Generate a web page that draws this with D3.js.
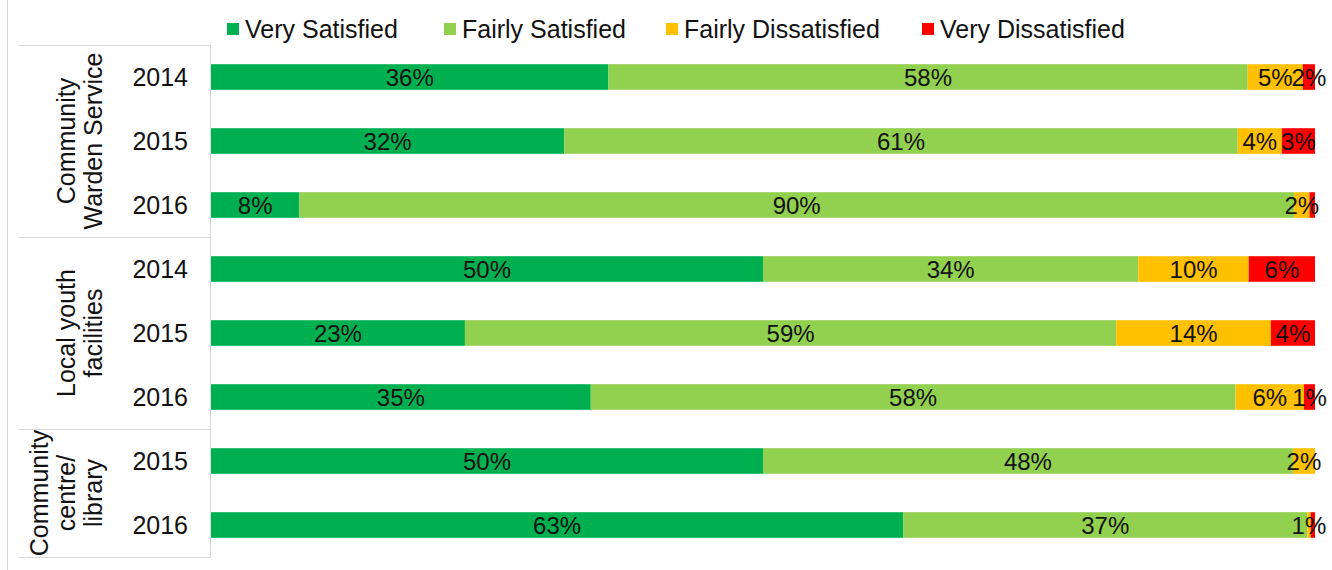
<!DOCTYPE html>
<html>
<head>
<meta charset="utf-8">
<script src="https://cdn.jsdelivr.net/npm/d3@7"></script>
<style>
  body { margin: 0; background: #fff; }
  svg text { font-family: "Liberation Sans", Arial, sans-serif; fill: #111; }
</style>
</head>
<body>
<svg id="chart" width="1332" height="570"></svg>
<script>
// data
var groups = ["Community Warden Service", "Local youth facilities", "Community centre/ library"];
var groupLines = [["Community", "Warden Service"], ["Local youth", "facilities"], ["Community", "centre/", "library"]];
var rowGroup = [0, 0, 0, 1, 1, 1, 2, 2];
var years = ["2014", "2015", "2016", "2014", "2015", "2016", "2015", "2016"];
var series = ["Very Satisfied", "Fairly Satisfied", "Fairly Dissatisfied", "Very Dissatisfied"];
var colors = ["#00B050", "#92D050", "#FFC000", "#FF0000"];

var verySat      = [36,   32, 8,    50, 23, 34.4, 50, 62.7];
var fairlySat    = [57.9, 61, 90.1, 34, 59, 58.4, 48, 36.6];
var fairlyDissat = [5,    4,  1.4,  10, 14, 6.2,  2,  0.3];
var veryDissat   = [1.1,  3,  0.5,  6,  4,  1,    0,  0.4];

var labelsVS = ["36%", "32%", "8%", "50%", "23%", "35%", "50%", "63%"];
var labelsFS = ["58%", "61%", "90%", "34%", "59%", "58%", "48%", "37%"];
var labelsFD = ["5%", "4%", "2%", "10%", "14%", "6%", "2%", "1%"];
var labelsVD = ["2%", "3%", "", "6%", "4%", "1%", "", ""];

var seriesValues = [verySat, fairlySat, fairlyDissat, veryDissat];
var seriesLabels = [labelsVS, labelsFS, labelsFD, labelsVD];

var svg = d3.select("#chart");
var rows = d3.range(years.length);

var x = d3.scaleLinear().domain([0, 100]).range([211, 1315]);
var y = d3.scaleBand().domain(rows).range([45, 557]).paddingInner(0.6).paddingOuter(0.3);

// stacked segments, normalised to 100
var table = rows.map(function(i) {
  var o = {row: i};
  series.forEach(function(s, k) { o[s] = seriesValues[k][i]; });
  return o;
});
var stack = d3.stack().keys(series).offset(d3.stackOffsetExpand);
var stacked = stack(table);

// left axis frame
var grey = "#d9d9d9";
svg.append("line").attr("x1", 7.5).attr("x2", 7.5).attr("y1", 0).attr("y2", 570).attr("stroke", grey);
svg.append("line").attr("x1", 210.5).attr("x2", 210.5).attr("y1", 45).attr("y2", 558).attr("stroke", grey);
var bounds = [0, 3, 6, 8];
bounds.forEach(function(b) {
  var yy;
  if (b === 0) yy = y(0) - y.step() * y.paddingOuter();
  else if (b === rows.length) yy = y(rows.length - 1) + y.bandwidth() + y.step() * y.paddingOuter();
  else yy = y(b) - y.step() * y.paddingInner() / 2;
  svg.append("line").attr("x1", 19).attr("x2", 211).attr("y1", Math.round(yy) + 0.5).attr("y2", Math.round(yy) + 0.5).attr("stroke", grey);
});

// bars
var layer = svg.append("g").selectAll("g").data(stacked).enter().append("g")
  .attr("fill", function(d, k) { return colors[k]; });
layer.selectAll("rect").data(function(d) { return d; }).enter().append("rect")
  .attr("x", function(d) { return x(d[0] * 100); })
  .attr("width", function(d) { return Math.max(0, x(d[1] * 100) - x(d[0] * 100)); })
  .attr("y", function(d, i) { return y(i); })
  .attr("height", y.bandwidth());

// segment labels
stacked.forEach(function(s, k) {
  svg.append("g").selectAll("text").data(s).enter().append("text")
    .attr("x", function(d) { return (x(d[0] * 100) + x(d[1] * 100)) / 2; })
    .attr("y", function(d, i) { return y(i) + y.bandwidth() / 2; })
    .attr("dy", "0.36em")
    .attr("text-anchor", "middle")
    .attr("font-size", 24)
    .text(function(d, i) { return seriesLabels[k][i]; });
});

// year labels
svg.append("g").selectAll("text").data(rows).enter().append("text")
  .attr("x", 188)
  .attr("y", function(i) { return y(i) + y.bandwidth() / 2; })
  .attr("dy", "0.36em")
  .attr("text-anchor", "end")
  .attr("font-size", 25)
  .text(function(i) { return years[i]; });

// group labels, rotated
groups.forEach(function(g, gi) {
  var idx = rows.filter(function(i) { return rowGroup[i] === gi; });
  var cy = (y(idx[0]) + y(idx[idx.length - 1]) + y.bandwidth()) / 2;
  var lines = groupLines[gi];
  var lastX = 93;
  var t = svg.append("text")
    .attr("transform", "translate(" + lastX + "," + cy + ") rotate(-90)")
    .attr("text-anchor", "middle")
    .attr("font-size", 25);
  lines.forEach(function(line, li) {
    t.append("tspan")
      .attr("x", 0)
      .attr("y", -(lines.length - 1 - li) * 27)
      .attr("dy", "0.36em")
      .text(line);
  });
});

// legend
var legendX = [227, 444, 666, 922];
var legend = svg.append("g").selectAll("g").data(series).enter().append("g")
  .attr("transform", function(d, k) { return "translate(" + legendX[k] + ",23)"; });
legend.append("rect").attr("width", 12).attr("height", 12)
  .attr("fill", function(d, k) { return colors[k]; });
legend.append("text").attr("x", 18).attr("y", 6).attr("dy", "0.36em")
  .attr("font-size", 25)
  .text(function(d) { return d; });
</script>
</body>
</html>
